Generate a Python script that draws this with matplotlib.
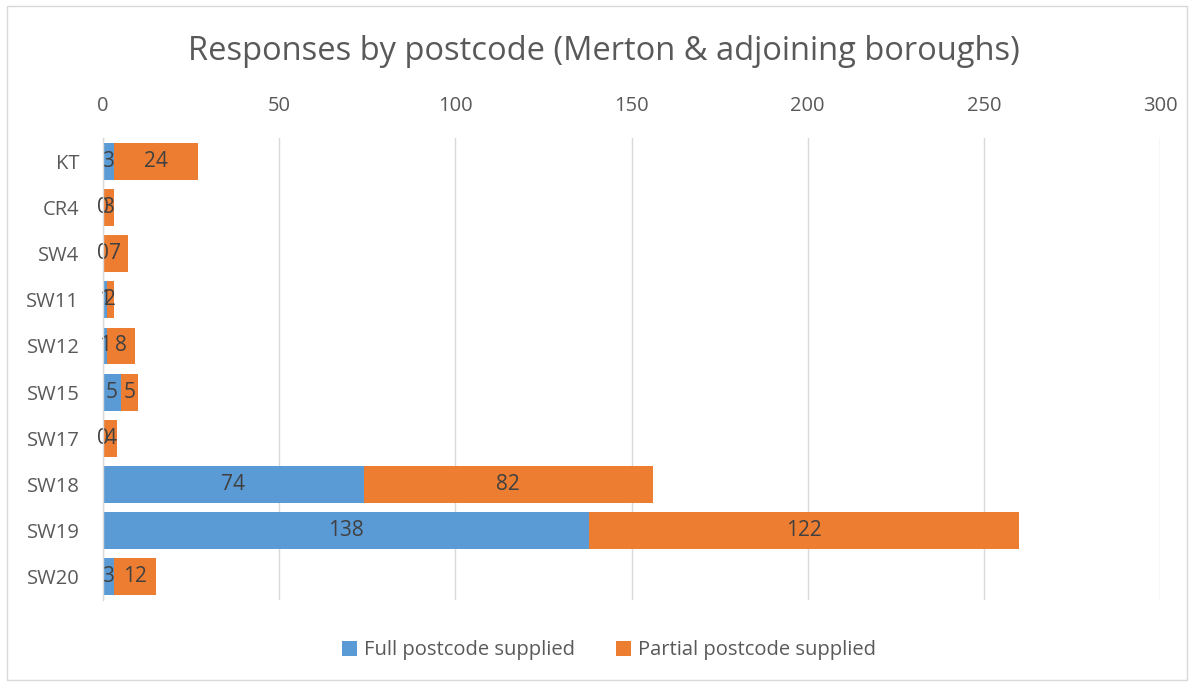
import matplotlib.pyplot as plt
import numpy as np
from matplotlib.patches import Rectangle

categories = ["KT", "CR4", "SW4", "SW11", "SW12", "SW15", "SW17", "SW18", "SW19", "SW20"]
full = [3, 0, 0, 1, 1, 5, 0, 74, 138, 3]
partial = [24, 3, 7, 2, 8, 5, 4, 82, 122, 12]
xticks = [0, 50, 100, 150, 200, 250, 300]

plt.rcParams['font.family'] = ['Open Sans', 'DejaVu Sans']
text_color = '#595959'
blue = '#5B9BD5'
orange = '#ED7D31'

fig = plt.figure(figsize=(11.94, 6.84), dpi=100)
ax = fig.add_axes([0.0863, 0.1228, 0.8852, 0.6752])

y = np.arange(len(categories))
b1 = ax.barh(y, full, height=0.8, color=blue, label='Full postcode supplied', zorder=3)
b2 = ax.barh(y, partial, left=full, height=0.8, color=orange, label='Partial postcode supplied', zorder=3)
ax.bar_label(b1, labels=[str(v) for v in full], label_type='center', color='#404040', fontsize=15)
ax.bar_label(b2, labels=[str(v) for v in partial], label_type='center', color='#404040', fontsize=15)

ax.set_ylim(len(categories) - 0.5, -0.5)
ax.set_xlim(0, 300)
ax.set_yticks(y)
ax.set_yticklabels(categories)
ax.set_xticks(xticks)
ax.xaxis.tick_top()
ax.tick_params(axis='both', length=0, labelsize=14.5, labelcolor=text_color)
ax.tick_params(axis='x', pad=16)
ax.tick_params(axis='y', pad=17)
ax.grid(axis='x', color='#D9D9D9', linewidth=1, zorder=0)
for s in ['top', 'right', 'bottom']:
    ax.spines[s].set_visible(False)
ax.spines['left'].set_color('#D9D9D9')
ax.spines['left'].set_linewidth(1)
ax.spines['left'].set_zorder(4)

fig.text(0.506, 0.925, "Responses by postcode (Merton & adjoining boroughs)",
         ha='center', va='center', fontsize=23.5, color=text_color)

fig.legend(loc='center', bbox_to_anchor=(0.51, 0.049), ncol=2, frameon=False,
           fontsize=14.5, labelcolor=text_color, handlelength=0.75, handleheight=0.75,
           columnspacing=2.0, handletextpad=0.35)

fig.patches.append(Rectangle((0.006, 0.006), 0.988, 0.985, transform=fig.transFigure,
                             fill=False, edgecolor='#D9D9D9', linewidth=1))

fig.savefig('out.png', dpi=100)
